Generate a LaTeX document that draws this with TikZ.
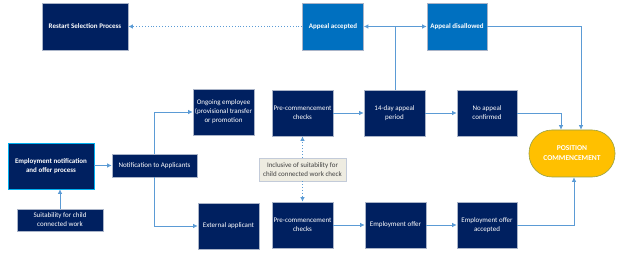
\documentclass[tikz,border=0pt]{standalone}
\usepackage{fontspec}
\setmainfont{Carlito}
\usetikzlibrary{arrows.meta,positioning}
\definecolor{Navy}{RGB}{0,32,96}
\definecolor{AppealBlue}{RGB}{0,112,192}
\definecolor{ArrowBlue}{RGB}{91,155,213}
\definecolor{EdgeGray}{RGB}{170,180,200}
\definecolor{CyanEdge}{RGB}{0,176,240}
\definecolor{Gold}{RGB}{255,192,0}
\definecolor{OliveEdge}{RGB}{150,160,70}
\definecolor{NoteFill}{RGB}{238,236,225}
\definecolor{NoteText}{RGB}{64,64,64}

\begin{document}
\begin{tikzpicture}[
    x=1pt, y=-1pt,
    >={Latex[length=4.5pt,width=4.5pt]},
    box/.style={rectangle, fill=#1, draw=EdgeGray, line width=0.6pt,
                minimum width=61pt, minimum height=46pt, inner sep=1pt,
                align=center, text=white, font=\fontsize{7}{9}\selectfont},
    box/.default=Navy,
    arr/.style={->, line width=0.8pt, color=ArrowBlue},
    dotarr/.style={->, dotted, line width=0.9pt, color=ArrowBlue},
]
\useasboundingbox (0,0) rectangle (623,253);

% ── Top row: appeal outcomes ──
\node[box, minimum width=86pt, minimum height=47pt, font=\fontsize{7}{9}\selectfont\bfseries]
    (restart) at (85,26.5) {Restart Selection Process};
\node[box=AppealBlue, minimum height=47pt, font=\fontsize{7}{9}\selectfont\bfseries]
    (accepted) at (333,26.5) {Appeal accepted};
\node[box=AppealBlue, minimum width=60pt, minimum height=47pt, font=\fontsize{7}{9}\selectfont\bfseries]
    (disallowed) at (457,26.5) {Appeal disallowed};

% ── Start of the process ──
\node[box, draw=CyanEdge, minimum width=86pt, font=\fontsize{7}{9}\selectfont\bfseries]
    (empnotif) at (51,166) {Employment notification\\and offer process};
\node[box, minimum width=86pt, minimum height=22pt]
    (suit) at (60,220) {Suitability for child\\connected work};
\node[box, minimum width=85pt, minimum height=23pt]
    (notif) at (154.5,165.5) {Notification to Applicants};

% ── Ongoing employee path ──
\node[box] (ongoing) at (223.5,112) {Ongoing employee\\(provisional transfer\\or promotion};
\node[box] (precheckA) at (302.5,113) {Pre-commencement\\checks};
\node[box] (appeal) at (394.5,113) {14-day appeal\\period};
\node[box, minimum width=60pt] (noappeal) at (487,113) {No appeal\\confirmed};

% ── External applicant path ──
\node[box] (external) at (228.5,226) {External applicant};
\node[box] (precheckB) at (302.5,225) {Pre-commencement\\checks};
\node[box] (offer) at (395.5,225) {Employment offer};
\node[box, minimum width=60pt] (offeracc) at (487,225) {Employment offer\\accepted};

% ── Note between the checks ──
\node[rectangle, fill=NoteFill, draw=EdgeGray!70, line width=0.5pt,
      minimum width=87pt, minimum height=23pt, inner sep=1pt, align=center,
      text=NoteText, font=\fontsize{7}{9}\selectfont]
    (note) at (302.5,169.5) {Inclusive of suitability for\\child connected work check};

% ── Goal ──
\node[rectangle, rounded corners=23pt, fill=Gold, draw=OliveEdge, line width=0.6pt,
      minimum width=86pt, minimum height=47pt, align=center, text=white,
      font=\fontsize{7.5}{10}\selectfont\bfseries]
    (commence) at (572,153.5) {POSITION\\COMMENCEMENT};

% ── Arrows: start ──
\draw[arr] (suit.north) -- (suit.north |- empnotif.south);
\draw[arr] (empnotif.east |- notif.west) -- (notif.west);
\draw[arr] (notif.north) |- (ongoing.west);
\draw[arr] (notif.south) |- (external.west);

% ── Arrows: rows ──
\draw[arr] (precheckA) -- (appeal);
\draw[arr] (appeal) -- (noappeal);
\draw[arr] (precheckB) -- (offer);
\draw[arr] (offer) -- (offeracc);

% ── Arrows: appeal ──
\draw[arr] ([xshift=0.5pt]appeal.north) |- (accepted.east);
\draw[arr] ([xshift=0.5pt]appeal.north) |- (disallowed.west);
\draw[dotarr] (accepted) -- (restart);

% ── Arrows: into commencement ──
\draw[arr] (disallowed.east) -| ([xshift=9pt]commence.north);
\draw[arr] (noappeal.east) -| ([xshift=-11pt]commence.north);
\draw[arr] (offeracc.east) -| ([xshift=2pt]commence.south);

% ── Note arrows ──
\draw[dotarr] (note.north) -- (precheckA.south);
\draw[dotarr] (note.south) -- (precheckB.north);

\end{tikzpicture}
\end{document}
